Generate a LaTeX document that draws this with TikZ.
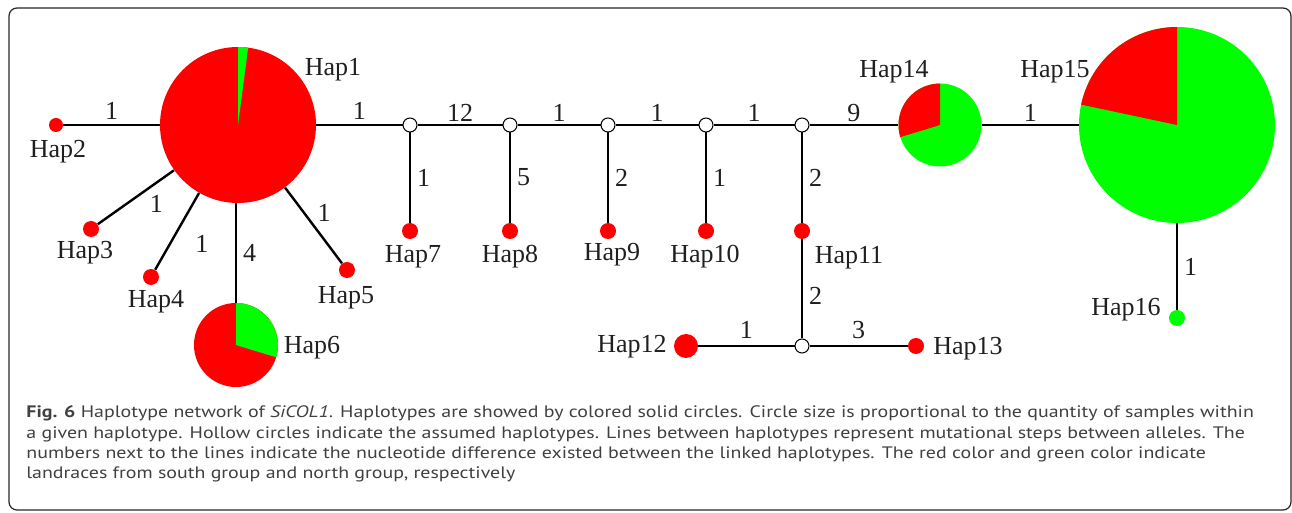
\documentclass[tikz,border=0pt]{standalone}
\usepackage{fontspec}
\setmainfont{Liberation Serif}
\newfontfamily\capfont[FakeStretch=1.2]{PT Sans}
\definecolor{hapred}{RGB}{255,0,0}
\definecolor{hapgreen}{RGB}{0,255,0}
\definecolor{capgray}{RGB}{64,64,64}

\begin{document}
\begin{tikzpicture}[x=0.5pt, y=-0.5pt,
		hap/.style={circle, inner sep=0pt, minimum size=8pt, fill=hapred},
		pie/.style={circle, inner sep=0pt},
		mv/.style={circle, draw, line width=0.5pt, fill=white, inner sep=0pt, minimum size=7pt},
		link/.style={line width=1.2pt},
		lbl/.style={font=\fontsize{13}{15}\selectfont, text=black!88, inner sep=0pt},
		num/.style={font=\fontsize{13}{15}\selectfont, text=black!88, inner sep=0pt}]
		\useasboundingbox (0,0) rectangle (1292,513);
		\draw[rounded corners=4pt, line width=0.6pt, black!85] (9,8) rectangle (1291,510);

		% haplotypes
		\node[pie, minimum size=78pt] (hap1) at (238,125) {};
		\node[hap, minimum size=7pt] (hap2) at (56,125) {};
		\node[hap] (hap3) at (91,229) {};
		\node[hap] (hap4) at (151,277) {};
		\node[hap] (hap5) at (347,270) {};
		\node[pie, minimum size=42pt] (hap6) at (236,345) {};
		\node[hap] (hap7) at (410,231) {};
		\node[hap] (hap8) at (510,231) {};
		\node[hap] (hap9) at (608,231) {};
		\node[hap] (hap10) at (706,231) {};
		\node[hap] (hap11) at (802,231) {};
		\node[hap, minimum size=12pt] (hap12) at (686,346) {};
		\node[hap] (hap13) at (916,346) {};
		\node[pie, minimum size=41.5pt] (hap14) at (940,125) {};
		\node[pie, minimum size=98pt] (hap15) at (1177,125) {};
		\node[hap, fill=hapgreen] (hap16) at (1177,318) {};

		% median vectors
		\node[mv] (mv1) at (410,125) {};
		\node[mv] (mv2) at (510,125) {};
		\node[mv] (mv3) at (608,125) {};
		\node[mv] (mv4) at (706,125) {};
		\node[mv] (mv5) at (802,125) {};
		\node[mv] (mv6) at (802,346) {};

		% pies
		\fill[hapred] (hap1.center) circle[radius=39pt];
		\fill[hapgreen] (hap1.center) -- ++(82.5:39pt) arc[start angle=82.5, end angle=90, radius=39pt] -- cycle;
		\fill[hapred] (hap6.center) circle[radius=21pt];
		\fill[hapgreen] (hap6.center) -- ++(-17:21pt) arc[start angle=-17, end angle=90, radius=21pt] -- cycle;
		\fill[hapgreen] (hap14.center) circle[radius=20.75pt];
		\fill[hapred] (hap14.center) -- ++(90:20.75pt) arc[start angle=90, end angle=197, radius=20.75pt] -- cycle;
		\fill[hapgreen] (hap15.center) circle[radius=49pt];
		\fill[hapred] (hap15.center) -- ++(90:49pt) arc[start angle=90, end angle=168, radius=49pt] -- cycle;

		% links
		\draw[link] (hap2) -- node[num, above=2pt] {1} (hap1);
		\draw[link] (hap1) -- node[num, pos=0.62, right=11pt] {1} (hap3);
		\draw[link] (hap1) -- node[num, pos=0.66, right=12pt] {1} (hap4);
		\draw[link] (hap1) -- node[num, pos=0.34, right=6pt] {1} (hap5);
		\draw[link] (hap1.south) ++(-2,0) coordinate (h1s) (h1s) -- node[num, right=3pt] {4} (hap6);
		\draw[link] (hap1) -- node[num, above=2pt] {1} (mv1);
		\draw[link] (mv1) -- node[num, above=1pt] {12} (mv2);
		\draw[link] (mv2) -- node[num, above=1pt] {1} (mv3);
		\draw[link] (mv3) -- node[num, above=1pt] {1} (mv4);
		\draw[link] (mv4) -- node[num, above=1pt] {1} (mv5);
		\draw[link] (mv5) -- node[num, above=1pt] {9} (hap14);
		\draw[link] (hap14) -- node[num, above=1pt] {1} (hap15);
		\draw[link] (mv1) -- node[num, right=3pt] {1} (hap7);
		\draw[link] (mv2) -- node[num, right=3pt] {5} (hap8);
		\draw[link] (mv3) -- node[num, right=3pt] {2} (hap9);
		\draw[link] (mv4) -- node[num, right=3pt] {1} (hap10);
		\draw[link] (mv5) -- node[num, right=3pt] {2} (hap11);
		\draw[link] (hap11) -- node[num, pos=0.57, right=3pt] {2} (mv6);
		\draw[link] (mv6) -- node[num, above=3pt] {1} (hap12);
		\draw[link] (mv6) -- node[num, above=3pt] {3} (hap13);
		\draw[link] (hap15) -- node[num, right=3pt] {1} (hap16);

		% names
		\node[lbl] (l1) at (333,70) {Hap1};
		\node[lbl] (l2) at (58,152) {Hap2};
		\node[lbl] (l3) at (85,253) {Hap3};
		\node[lbl] (l4) at (156,302) {Hap4};
		\node[lbl] (l5) at (346,298) {Hap5};
		\node[lbl] (l6) at (312,348) {Hap6};
		\node[lbl] (l7) at (413,257) {Hap7};
		\node[lbl] (l8) at (510,257) {Hap8};
		\node[lbl] (l9) at (612,255) {Hap9};
		\node[lbl] (l10) at (705,257) {Hap10};
		\node[lbl] (l11) at (849,258) {Hap11};
		\node[lbl] (l12) at (632,347) {Hap12};
		\node[lbl] (l13) at (968,349) {Hap13};
		\node[lbl] (l14) at (894,72) {Hap14};
		\node[lbl] (l15) at (1055,72) {Hap15};
		\node[lbl] (l16) at (1126,310) {Hap16};

		% caption (base = last line)
		\node[anchor=base west, inner sep=0pt, align=left, text=capgray,
			font=\capfont\fontsize{8.3}{10.2}\selectfont] (cap) at (26,479)
			{\textbf{Fig. 6} Haplotype network of \textit{SiCOL1}. Haplotypes are showed by colored solid circles. Circle size is proportional to the quantity of samples within\\
			a given haplotype. Hollow circles indicate the assumed haplotypes. Lines between haplotypes represent mutational steps between alleles. The\\
			numbers next to the lines indicate the nucleotide difference existed between the linked haplotypes. The red color and green color indicate\\
			landraces from south group and north group, respectively};
	\end{tikzpicture}
\end{document}
